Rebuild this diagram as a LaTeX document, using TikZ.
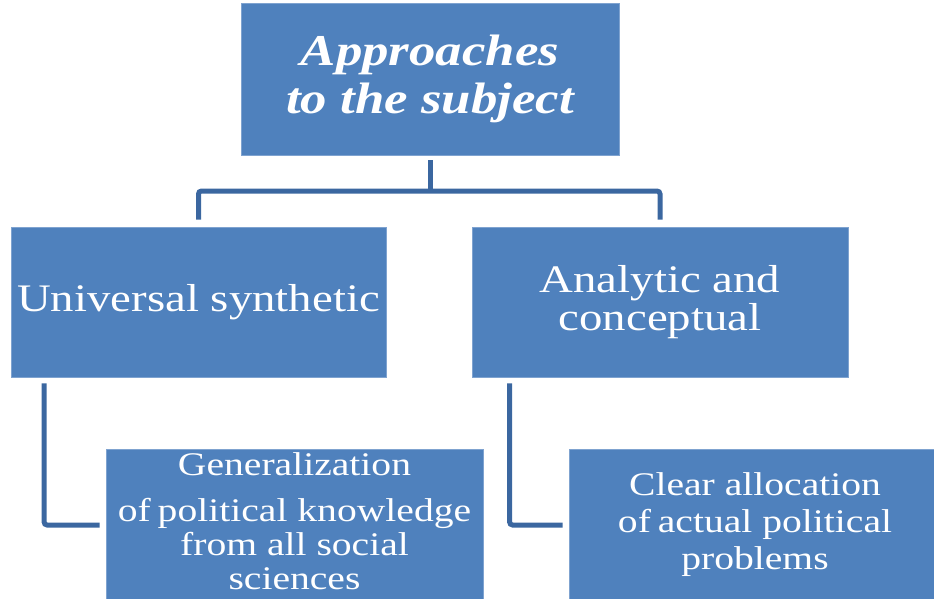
\documentclass[tikz,border=0pt]{standalone}
\usepackage{fontspec}
\newfontfamily\wf[FakeStretch=1.2]{Liberation Serif}
\definecolor{boxblue}{HTML}{4F81BD}
\definecolor{boxedge}{HTML}{7FA3D0}
\definecolor{connblue}{HTML}{3B67A0}
\begin{document}
\begin{tikzpicture}[x=1pt,y=-1pt,
  box/.style={rectangle,fill=boxblue,draw=boxedge,line width=0.8pt,text=white,align=center,inner sep=0pt},
  conn/.style={draw=connblue,line width=5pt,rounded corners=3pt}]
\useasboundingbox (0,0) rectangle (934,598);
\clip (0,0) rectangle (934,598);
\node[box,minimum width=378pt,minimum height=152pt,font=\wf\fontsize{44}{48}\selectfont\bfseries\itshape] (T) at (430,79) {Approaches\\to the subject};
\node[box,minimum width=375pt,minimum height=150pt,font=\wf\fontsize{39}{38}\selectfont] (L) at (198.5,302) {Universal synthetic};
\node[box,minimum width=376pt,minimum height=150pt,font=\wf\fontsize{39}{38}\selectfont] (R) at (660,302) {Analytic and\\conceptual};
\node[box,minimum width=377pt,minimum height=152pt,font=\wf\fontsize{33}{34}\selectfont] (BL) at (294.5,525) {Generalization\\[12pt]of\hspace{-3pt} political knowledge\\from all social\\sciences\rule[-7pt]{0pt}{1pt}};
\node[box,minimum width=372pt,minimum height=152pt,font=\wf\fontsize{33}{37}\selectfont] (BR) at (755,525) {Clear allocation\\of\hspace{-3pt} actual political\\problems};
\coordinate (J) at (430,191);
\draw[conn] ([yshift=-5pt]T.south) -- (J);
\draw[conn] ([yshift=7pt]L.north) |- (J) -| ([yshift=7pt]R.north);
\draw[conn] ([xshift=33.5pt,yshift=-6pt]L.south west) |- ([xshift=-6pt]BL.west);
\draw[conn] ([xshift=38pt,yshift=-6pt]R.south west) |- ([xshift=-6pt]BR.west);
\end{tikzpicture}
\end{document}
